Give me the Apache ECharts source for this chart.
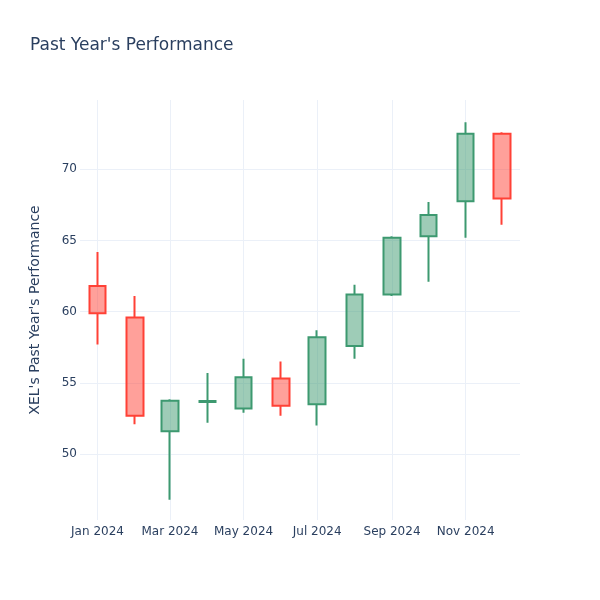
<!DOCTYPE html>
<html>
<head>
<meta charset="utf-8">
<script src="https://cdn.jsdelivr.net/npm/echarts@6/dist/echarts.min.js"></script>
<style>html,body{margin:0;padding:0;background:#fff}#c{width:600px;height:600px}</style>
</head>
<body>
<div id="c"></div>
<script>
var dates = ['2024-01-01','2024-02-01','2024-03-01','2024-04-01','2024-05-01','2024-06-01','2024-07-01','2024-08-01','2024-09-01','2024-10-01','2024-11-01','2024-12-01'];
var openV  = [61.8, 59.6, 51.6, 53.65, 53.2, 55.3, 53.5, 57.6, 61.2, 65.3, 67.75, 72.5];
var closeV = [59.9, 52.7, 53.75, 53.72, 55.4, 53.4, 58.2, 61.2, 65.2, 66.8, 72.5, 67.95];
var lowV   = [57.7, 52.1, 46.8, 52.2, 52.9, 52.7, 52.0, 56.7, 61.1, 62.1, 65.2, 66.1];
var highV  = [64.2, 61.1, 53.86, 55.7, 56.7, 56.5, 58.7, 61.9, 65.3, 67.7, 73.3, 72.6];
var months = ['Jan','Feb','Mar','Apr','May','Jun','Jul','Aug','Sep','Oct','Nov','Dec'];

var data = dates.map(function(d, i){ return [d, openV[i], closeV[i], lowV[i], highV[i]]; });
var FONT = 'DejaVu Sans';
var chart = echarts.init(document.getElementById('c'), null, {renderer: 'canvas'});
chart.setOption({
  animation: false,
  backgroundColor: '#fff',
  title: {
    text: "Past Year's Performance",
    left: 30, top: 37, padding: 0,
    textStyle: {fontFamily: FONT, fontSize: 17, fontWeight: 'normal', color: '#2a3f5f'}
  },
  grid: {left: 80, right: 80, top: 100, bottom: 80, containLabel: false},
  xAxis: {
    type: 'time',
    min: '2023-12-17 12:00:00',
    max: '2024-12-16',
    splitNumber: 6,
    minInterval: 3600*24*1000*58,
    maxInterval: 3600*24*1000*62,
    axisLine: {show: false},
    axisTick: {show: false},
    splitLine: {show: true, showMinLine: false, showMaxLine: false, lineStyle: {color: '#EBF0F8', width: 1}},
    axisLabel: {
      fontFamily: FONT, fontSize: 12, color: '#2a3f5f', margin: 6,
      hideOverlap: false,
      formatter: function(v){ var d = new Date(v); return months[d.getMonth()] + ' ' + d.getFullYear(); }
    }
  },
  yAxis: {
    type: 'value',
    min: 45.37, max: 74.87,
    splitNumber: 6,
    scale: true,
    name: "XEL's Past Year's Performance",
    nameLocation: 'middle',
    nameGap: 38,
    nameTextStyle: {fontFamily: FONT, fontSize: 14, color: '#2a3f5f'},
    axisLine: {show: false},
    axisTick: {show: false},
    splitLine: {show: true, showMinLine: false, showMaxLine: false, lineStyle: {color: '#EBF0F8', width: 1}},
    axisLabel: {fontFamily: FONT, fontSize: 12, color: '#2a3f5f', margin: 3, showMinLabel: false, showMaxLabel: false}
  },
  series: [{
    type: 'candlestick',
    data: data,
    encode: {x: 0, y: [1, 2, 3, 4]},
    barWidth: 17,
    itemStyle: {
      color: 'rgba(61,153,112,0.5)',
      color0: 'rgba(255,65,54,0.5)',
      borderColor: '#3D9970',
      borderColor0: '#FF4136',
      borderWidth: 2
    }
  }]
});
</script>
</body>
</html>
